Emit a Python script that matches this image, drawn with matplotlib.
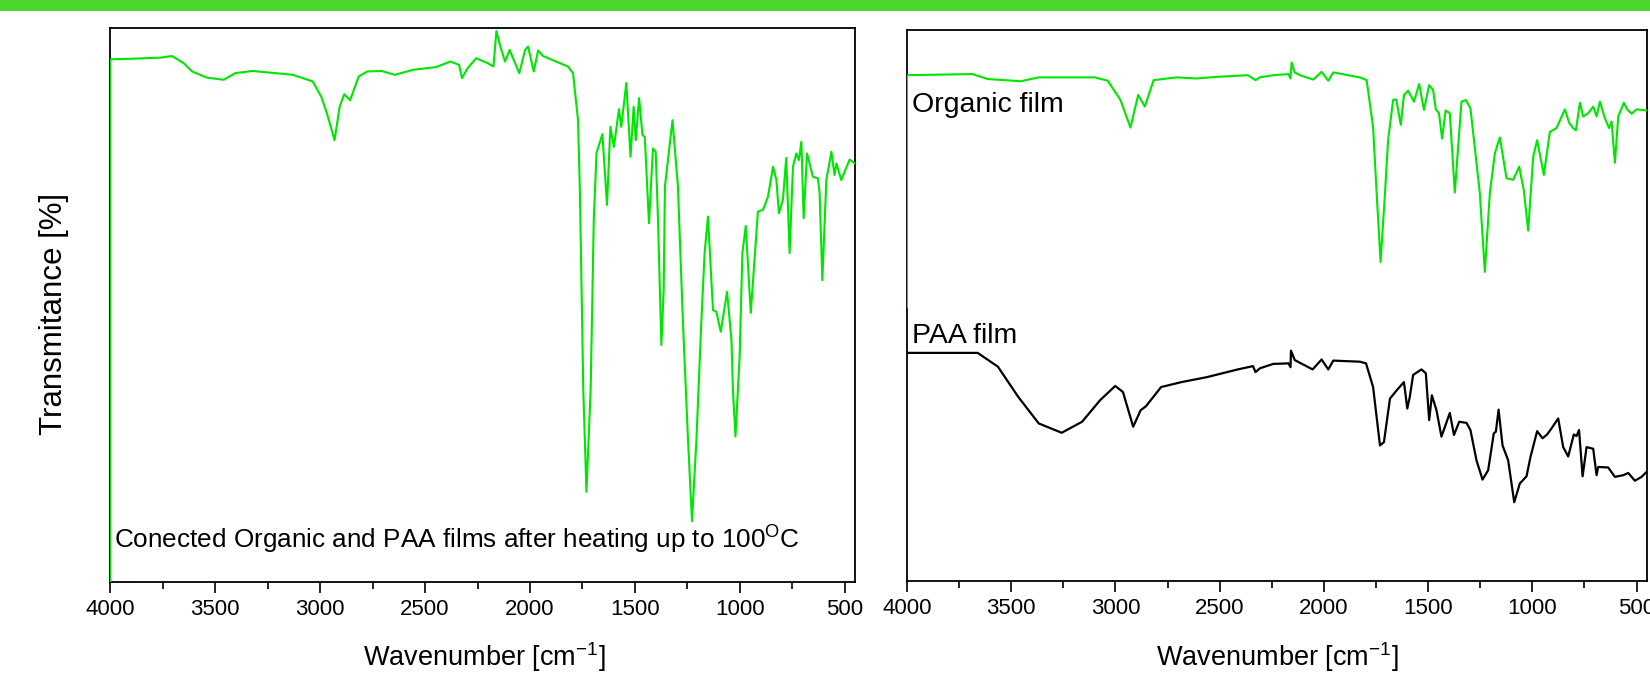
import matplotlib
matplotlib.use("Agg")
import matplotlib.pyplot as plt
from matplotlib.ticker import MultipleLocator
from matplotlib.patches import Rectangle

plt.rcParams['font.family'] = ['Liberation Sans', 'DejaVu Sans']
plt.rcParams['mathtext.fontset'] = 'custom'
plt.rcParams['mathtext.rm'] = 'Liberation Sans'
plt.rcParams['mathtext.it'] = 'Liberation Sans'

# ---- spectra (wavenumber in cm-1, transmittance in %) ----
# the exported spectra start with one point at the bottom of the frame at 4000
heated_wn = [4000, 4000, 3900, 3760, 3706, 3650, 3609, 3540, 3459, 3404, 3322, 3130,
             3035, 2994, 2967, 2931, 2907, 2885, 2857, 2816, 2775, 2707, 2644, 2557,
             2447, 2379, 2338, 2324, 2297, 2256, 2201, 2174, 2160, 2141, 2119, 2097,
             2051, 2023, 2009, 1982, 1961, 1938, 1819, 1795, 1771, 1762, 1746, 1731,
             1711, 1696, 1683, 1655, 1633, 1617, 1600, 1576, 1565, 1541, 1521, 1506,
             1496, 1480, 1464, 1453, 1433, 1414, 1401, 1390, 1374, 1363, 1357, 1321,
             1295, 1271, 1247, 1228, 1207, 1184, 1168, 1152, 1128, 1112, 1091, 1061,
             1040, 1033, 1021, 1001, 988, 972, 948, 914, 890, 866, 842, 826,
             814, 795, 779, 763, 747, 731, 719, 707, 696, 680, 652, 628,
             620, 607, 588, 564, 549, 540, 517, 477, 453]
heated_t = [0.0, 94.4, 94.5, 94.7, 95.0, 93.7, 92.2, 91.1, 90.7, 91.9, 92.3, 91.6,
            90.4, 87.6, 84.6, 79.8, 85.8, 88.1, 87.0, 91.3, 92.2, 92.3, 91.6, 92.5,
            93.0, 94.0, 93.4, 91.0, 92.8, 94.6, 93.7, 93.1, 99.5, 96.7, 94.0, 96.1,
            91.9, 96.1, 96.7, 92.2, 96.0, 95.0, 93.1, 91.9, 83.4, 70.2, 34.6, 16.3,
            34.6, 65.4, 77.5, 80.9, 68.1, 82.2, 78.6, 85.4, 82.2, 90.1, 76.8, 85.8,
            79.8, 87.4, 80.7, 80.4, 64.8, 78.3, 77.7, 65.4, 42.8, 52.7, 71.4, 83.4,
            71.4, 46.7, 25.6, 11.0, 25.6, 46.7, 59.4, 66.0, 49.1, 48.8, 45.2, 52.4,
            43.7, 34.6, 26.3, 40.7, 59.4, 64.3, 48.6, 66.9, 67.2, 69.6, 75.0, 72.6,
            66.6, 69.0, 76.6, 59.4, 75.0, 77.4, 76.2, 79.5, 65.7, 77.4, 73.2, 72.9,
            70.2, 54.5, 72.6, 77.7, 73.5, 75.6, 72.6, 76.3, 75.6]

organic_wn = [4000, 4000, 3686, 3612, 3454, 3368, 3099, 3037, 2976, 2928, 2891, 2859,
              2817, 2707, 2610, 2512, 2365, 2328, 2307, 2243, 2170, 2160, 2155, 2140,
              2115, 2051, 2011, 1979, 1955, 1827, 1795, 1764, 1747, 1728, 1707, 1692,
              1668, 1653, 1631, 1616, 1596, 1568, 1543, 1520, 1495, 1476, 1463, 1448,
              1433, 1416, 1396, 1372, 1340, 1319, 1297, 1252, 1228, 1204, 1180, 1156,
              1124, 1092, 1063, 1041, 1020, 996, 977, 945, 916, 884, 844, 823,
              804, 791, 772, 756, 732, 708, 692, 676, 652, 632, 620, 604,
              588, 561, 545, 524, 500, 452]
organic_t = [49.7, 91.8, 92.0, 91.1, 90.7, 91.4, 91.4, 90.8, 87.3, 82.3, 88.2, 86.1,
             90.9, 91.4, 91.2, 91.5, 91.8, 90.9, 91.4, 91.8, 92.0, 91.2, 94.1, 92.3,
             91.8, 91.0, 92.4, 90.8, 92.3, 91.4, 90.9, 82.4, 70.4, 57.9, 70.4, 80.0,
             87.3, 87.4, 82.8, 88.2, 89.0, 87.0, 90.2, 85.5, 90.0, 89.1, 85.6, 84.9,
             80.3, 85.4, 84.9, 70.5, 87.0, 87.3, 85.8, 70.4, 56.1, 70.4, 77.6, 80.5,
             73.1, 72.8, 75.2, 70.9, 63.6, 77.0, 80.0, 73.7, 81.5, 82.2, 85.6, 83.1,
             82.2, 81.8, 86.8, 84.3, 84.9, 86.1, 84.3, 87.0, 84.0, 82.2, 83.4, 75.9,
             84.3, 86.8, 85.6, 84.8, 85.6, 85.4]

paa_wn = [4000, 3661, 3564, 3466, 3368, 3258, 3160, 3074, 3001, 2964, 2915, 2879,
          2854, 2781, 2683, 2561, 2413, 2340, 2328, 2307, 2243, 2170, 2160, 2158,
          2140, 2115, 2054, 2011, 1979, 1955, 1827, 1798, 1764, 1731, 1712, 1683,
          1651, 1616, 1600, 1588, 1572, 1532, 1511, 1495, 1482, 1460, 1436, 1396,
          1376, 1351, 1316, 1297, 1268, 1239, 1212, 1185, 1175, 1162, 1143, 1116,
          1087, 1060, 1028, 1009, 977, 951, 929, 908, 876, 852, 828, 801,
          788, 776, 759, 740, 708, 692, 684, 636, 604, 564, 540, 508,
          476, 452]
paa_t = [41.4, 41.4, 38.9, 33.4, 28.6, 26.9, 28.9, 32.8, 35.4, 34.3, 28.0, 31.0,
         31.7, 35.2, 36.1, 37.0, 38.4, 39.0, 37.9, 38.6, 39.4, 39.5, 38.8, 41.8,
         40.1, 39.6, 38.4, 40.2, 38.4, 40.0, 39.8, 39.5, 35.2, 24.6, 25.2, 33.1,
         34.6, 36.1, 31.3, 33.4, 37.4, 38.4, 37.7, 29.2, 33.7, 31.0, 26.2, 30.5,
         26.5, 28.9, 28.7, 27.4, 21.9, 18.4, 20.1, 26.8, 27.1, 31.1, 24.6, 21.9,
         14.3, 17.7, 19.0, 22.5, 27.2, 25.9, 26.6, 27.7, 29.5, 24.3, 22.6, 26.6,
         26.3, 27.4, 19.0, 24.3, 24.0, 19.2, 20.7, 20.6, 18.9, 19.2, 19.6, 18.2,
         18.9, 19.8]

xlabel = 'Wavenumber [cm$^{-1}$]'
ylabel = 'Transmitance [%]'

GREEN = '#00e600'
W, H = 1650, 675

fig = plt.figure(figsize=(W / 100, H / 100), dpi=100)
fig.patches.append(Rectangle((0, 1 - 11 / H), 1, 11 / H, transform=fig.transFigure,
                             facecolor='#4cd62c', edgecolor='none', zorder=0))

ax1 = fig.add_axes([110.2 / W, 93 / H, 745.1 / W, 553.7 / H])
ax2 = fig.add_axes([907 / W, 94 / H, 740 / W, 551 / H])

ax1.plot(heated_wn, heated_t, color=GREEN, lw=1.5, zorder=3)
ax2.plot(organic_wn, organic_t, color=GREEN, lw=1.5, zorder=3)
ax2.plot(paa_wn, paa_t, color='black', lw=1.6, zorder=3)

for ax in (ax1, ax2):
    ax.set_xlim(4000, 450)
    ax.set_ylim(0, 100)
    ax.xaxis.set_major_locator(MultipleLocator(500))
    ax.xaxis.set_minor_locator(MultipleLocator(250))
    ax.tick_params(axis='x', which='major', direction='out', length=7.7, width=1.2,
                   labelsize=16, pad=4.5)
    ax.tick_params(axis='x', which='minor', direction='out', length=4.8, width=1.2)
    ax.set_yticks([])
    for s in ax.spines.values():
        s.set_linewidth(1.3)

fig.text(484 / W, 1 - 666 / H, xlabel, ha='center', va='baseline', fontsize=19.5)
fig.text(1277 / W, 1 - 666 / H, xlabel, ha='center', va='baseline', fontsize=19.5)
fig.text(62.3 / W, 1 - 314 / H, ylabel, rotation=90, rotation_mode='anchor',
         ha='center', va='baseline', fontsize=22.5)

fig.text(113.7 / W, 1 - 548.3 / H,
         'Conected Organic and PAA films after heating up to 100$^{\\mathrm{O}}$C',
         ha='left', va='baseline', fontsize=18.8)
fig.text(912 / W, 1 - 111.7 / H, 'Organic film', ha='left', va='baseline', fontsize=20.5)
fig.text(912 / W, 1 - 342.7 / H, 'PAA film', ha='left', va='baseline', fontsize=20.5)

fig.savefig('out.png', dpi=100, facecolor='white')
